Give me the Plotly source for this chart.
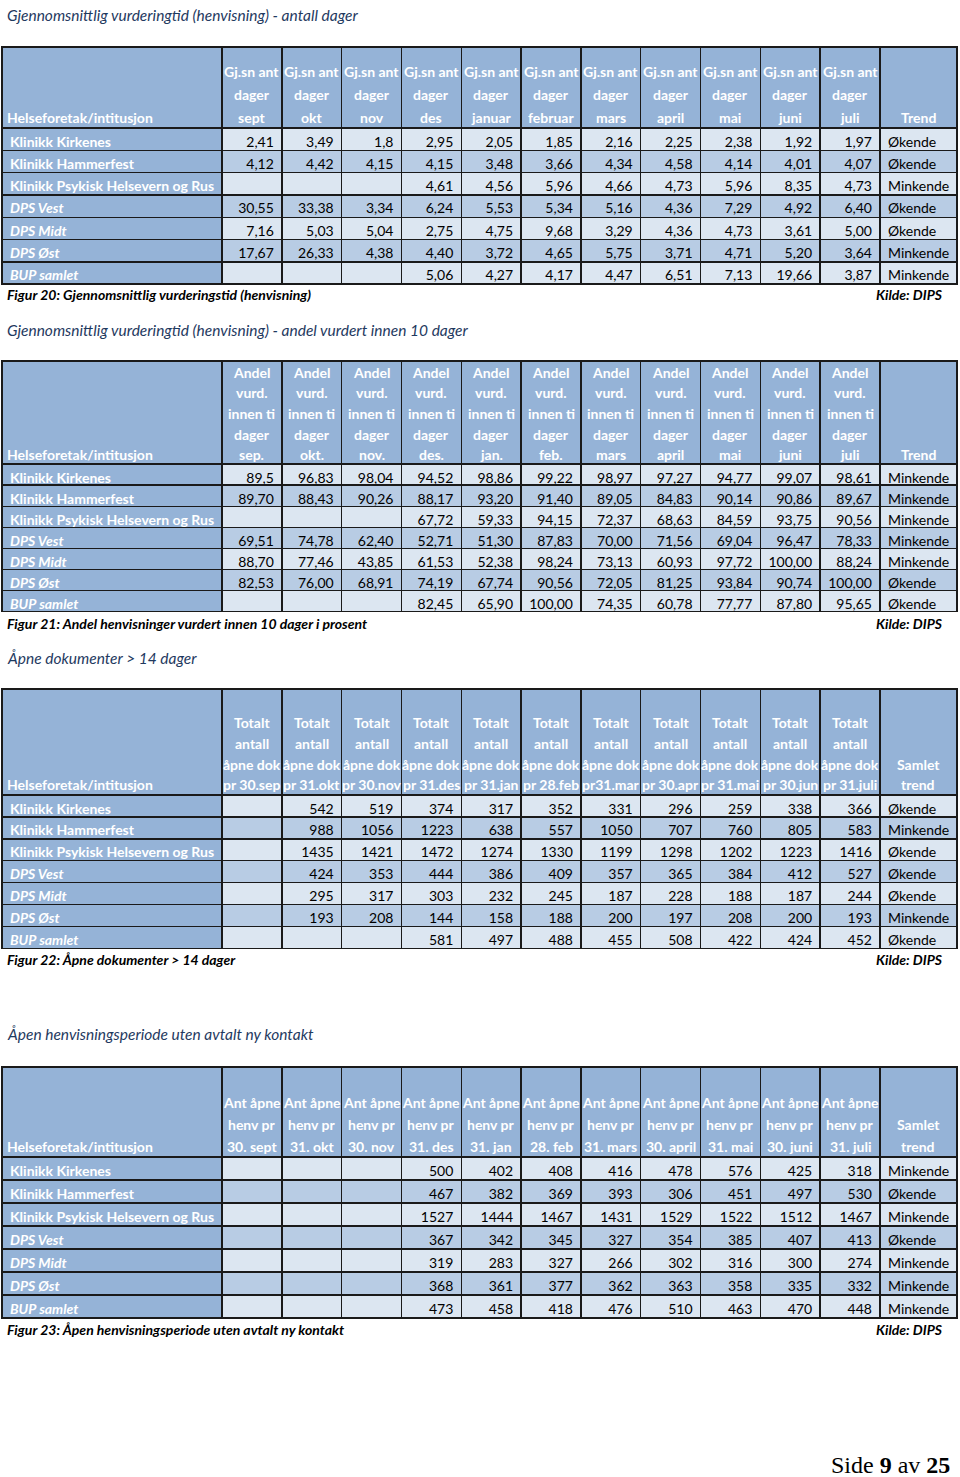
import plotly.graph_objects as go

PAGE_W, PAGE_H = 960, 1477

# ---------------- data ----------------
units = ["Klinikk Kirkenes", "Klinikk Hammerfest", "Klinikk Psykisk Helsevern og Rus",
         "DPS Vest", "DPS Midt", "DPS Øst", "BUP samlet"]
unit_italic = [False, False, False, True, True, True, True]
first_col_label = "Helseforetak/intitusjon"

# Table 1 - average assessment time (days)
t1_title = "Gjennomsnittlig vurderingtid (henvisning) - antall dager"
t1_caption = "Figur 20: Gjennomsnittlig vurderingstid (henvisning)"
t1_periods = ["sept", "okt", "nov", "des", "januar", "februar", "mars", "april", "mai", "juni", "juli"]
t1_head = ["Gj.sn ant", "dager"]
t1_trend_head = ["Trend"]
t1_values = [
    ["2,41", "3,49", "1,8", "2,95", "2,05", "1,85", "2,16", "2,25", "2,38", "1,92", "1,97"],
    ["4,12", "4,42", "4,15", "4,15", "3,48", "3,66", "4,34", "4,58", "4,14", "4,01", "4,07"],
    [None, None, None, "4,61", "4,56", "5,96", "4,66", "4,73", "5,96", "8,35", "4,73"],
    ["30,55", "33,38", "3,34", "6,24", "5,53", "5,34", "5,16", "4,36", "7,29", "4,92", "6,40"],
    ["7,16", "5,03", "5,04", "2,75", "4,75", "9,68", "3,29", "4,36", "4,73", "3,61", "5,00"],
    ["17,67", "26,33", "4,38", "4,40", "3,72", "4,65", "5,75", "3,71", "4,71", "5,20", "3,64"],
    [None, None, None, "5,06", "4,27", "4,17", "4,47", "6,51", "7,13", "19,66", "3,87"],
]
t1_trend = ["Økende", "Økende", "Minkende", "Økende", "Økende", "Minkende", "Minkende"]

# Table 2 - share assessed within 10 days (%)
t2_title = "Gjennomsnittlig vurderingtid (henvisning) - andel vurdert innen 10 dager"
t2_caption = "Figur 21: Andel henvisninger vurdert innen 10 dager i prosent"
t2_periods = ["sep.", "okt.", "nov.", "des.", "jan.", "feb.", "mars", "april", "mai", "juni", "juli"]
t2_head = ["Andel", "vurd.", "innen ti", "dager"]
t2_trend_head = ["Trend"]
t2_values = [
    ["89,5", "96,83", "98,04", "94,52", "98,86", "99,22", "98,97", "97,27", "94,77", "99,07", "98,61"],
    ["89,70", "88,43", "90,26", "88,17", "93,20", "91,40", "89,05", "84,83", "90,14", "90,86", "89,67"],
    [None, None, None, "67,72", "59,33", "94,15", "72,37", "68,63", "84,59", "93,75", "90,56"],
    ["69,51", "74,78", "62,40", "52,71", "51,30", "87,83", "70,00", "71,56", "69,04", "96,47", "78,33"],
    ["88,70", "77,46", "43,85", "61,53", "52,38", "98,24", "73,13", "60,93", "97,72", "100,00", "88,24"],
    ["82,53", "76,00", "68,91", "74,19", "67,74", "90,56", "72,05", "81,25", "93,84", "90,74", "100,00"],
    [None, None, None, "82,45", "65,90", "100,00", "74,35", "60,78", "77,77", "87,80", "95,65"],
]
t2_trend = ["Minkende", "Minkende", "Minkende", "Minkende", "Minkende", "Økende", "Økende"]

# Table 3 - open documents > 14 days
t3_title = "Åpne dokumenter > 14 dager"
t3_caption = "Figur 22: Åpne dokumenter > 14 dager"
t3_periods = ["pr 30.sep", "pr 31.okt", "pr 30.nov", "pr 31.des", "pr 31.jan", "pr 28.feb",
              "pr31.mar", "pr 30.apr", "pr 31.mai", "pr 30.jun", "pr 31.juli"]
t3_head = ["Totalt", "antall", "åpne dok"]
t3_trend_head = ["Samlet", "trend"]
t3_values = [
    [None, 542, 519, 374, 317, 352, 331, 296, 259, 338, 366],
    [None, 988, 1056, 1223, 638, 557, 1050, 707, 760, 805, 583],
    [None, 1435, 1421, 1472, 1274, 1330, 1199, 1298, 1202, 1223, 1416],
    [None, 424, 353, 444, 386, 409, 357, 365, 384, 412, 527],
    [None, 295, 317, 303, 232, 245, 187, 228, 188, 187, 244],
    [None, 193, 208, 144, 158, 188, 200, 197, 208, 200, 193],
    [None, None, None, 581, 497, 488, 455, 508, 422, 424, 452],
]
t3_trend = ["Økende", "Minkende", "Økende", "Økende", "Økende", "Minkende", "Økende"]

# Table 4 - open referral periods without new appointment
t4_title = "Åpen henvisningsperiode uten avtalt ny kontakt"
t4_caption = "Figur 23: Åpen henvisningsperiode uten avtalt ny kontakt"
t4_periods = ["30. sept", "31. okt", "30. nov", "31. des", "31. jan", "28. feb",
              "31. mars", "30. april", "31. mai", "30. juni", "31. juli"]
t4_head = ["Ant åpne", "henv pr"]
t4_trend_head = ["Samlet", "trend"]
t4_values = [
    [None, None, None, 500, 402, 408, 416, 478, 576, 425, 318],
    [None, None, None, 467, 382, 369, 393, 306, 451, 497, 530],
    [None, None, None, 1527, 1444, 1467, 1431, 1529, 1522, 1512, 1467],
    [None, None, None, 367, 342, 345, 327, 354, 385, 407, 413],
    [None, None, None, 319, 283, 327, 266, 302, 316, 300, 274],
    [None, None, None, 368, 361, 377, 362, 363, 358, 335, 332],
    [None, None, None, 473, 458, 418, 476, 510, 463, 470, 448],
]
t4_trend = ["Minkende", "Økende", "Minkende", "Økende", "Minkende", "Minkende", "Minkende"]

source_text = "Kilde: DIPS"
page_no, page_total = 9, 25

# ---------------- style / layout ----------------
FONT = "Lato, 'Open Sans', sans-serif"
TEXT_PX = 14
HEAD_FILL = "#95B3D7"
LIGHT = "#DCE6F1"
DARK = "#B8CCE4"
LINE = "#1a1a1a"
TITLE_COLOR = "#1F3A5F"
COL_W = [220] + [59.8] * 11 + [77]
X0, X1 = 2, 957

specs = [
    dict(title=t1_title, caption=t1_caption, periods=t1_periods, head=t1_head, trend_head=t1_trend_head,
         values=t1_values, trend=t1_trend, title_y=15, top=47, header_h=81, row_h=22.3, caption_y=295,
         head_gap=11, head_step=22.5),
    dict(title=t2_title, caption=t2_caption, periods=t2_periods, head=t2_head, trend_head=t2_trend_head,
         values=t2_values, trend=t2_trend, title_y=330, top=361, header_h=103, row_h=21.1, caption_y=623,
         head_gap=9, head_step=20.75),
    dict(title=t3_title, caption=t3_caption, periods=t3_periods, head=t3_head, trend_head=t3_trend_head,
         values=t3_values, trend=t3_trend, title_y=658, top=689, header_h=106, row_h=21.9, caption_y=959,
         head_gap=10, head_step=21),
    dict(title=t4_title, caption=t4_caption, periods=t4_periods, head=t4_head, trend_head=t4_trend_head,
         values=t4_values, trend=t4_trend, title_y=1034, top=1067, header_h=90, row_h=23.0, caption_y=1329,
         head_gap=11, head_step=22),
]


def py(y):
    return 1 - y / PAGE_H


def px(x):
    return x / PAGE_W


# column edges in page pixels (derived from the relative column widths)
scale = (X1 - X0) / sum(COL_W)
edges = [X0]
for w in COL_W:
    edges.append(edges[-1] + w * scale)
centers = [(edges[i] + edges[i + 1]) / 2 for i in range(len(COL_W))]

traces = []
annotations = []
n_rows = len(units)
head_font = dict(family=FONT, size=TEXT_PX, color="white")
for s in specs:
    cols = [[u.replace(" ", "\u00a0") for u in units]]
    for j in range(len(s["periods"])):
        cols.append(["" if row[j] is None else str(row[j]) for row in s["values"]])
    cols.append(list(s["trend"]))

    band = [LIGHT if i % 2 == 0 else DARK for i in range(n_rows)]
    fills = [[HEAD_FILL] * n_rows] + [band] * (len(cols) - 1)
    styles = [["italic" if it else "normal" for it in unit_italic]] + ["normal"] * (len(cols) - 1)

    bottom = s["top"] + s["header_h"] + n_rows * s["row_h"] + 8
    traces.append(dict(
        type="table",
        domain=dict(x=[px(X0), px(X1)], y=[py(bottom), py(s["top"])]),
        columnwidth=COL_W,
        header=dict(
            values=[""] * len(cols),
            height=s["header_h"],
            fill=dict(color=HEAD_FILL),
            line=dict(color=LINE, width=1.4),
        ),
        cells=dict(
            values=cols,
            height=s["row_h"],
            fill=dict(color=fills),
            line=dict(color=LINE, width=1.4),
            align=["left"] + ["right"] * (len(cols) - 2) + ["left"],
            font=dict(family=FONT, size=TEXT_PX,
                      color=["white"] + ["black"] * (len(cols) - 1),
                      weight=["bold"] + ["normal"] * (len(cols) - 1),
                      style=styles),
        ),
    ))

    # header labels, bottom-aligned like the spreadsheet header row
    head_bottom = s["top"] + s["header_h"]
    header_cols = [([first_col_label], 0, "left")]
    header_cols += [(s["head"] + [p], j + 1, "center") for j, p in enumerate(s["periods"])]
    header_cols += [(s["trend_head"], len(COL_W) - 1, "center")]
    for lines, ci, al in header_cols:
        for k, ln in enumerate(reversed(lines)):
            yc = head_bottom - s["head_gap"] - k * s["head_step"]
            if al == "left":
                xa, xx = "left", edges[ci] + 3
            else:
                xa, xx = "center", centers[ci]
            annotations.append(dict(text=f"<b>{ln}</b>", x=px(xx), y=py(yc), xref="paper", yref="paper",
                                    xanchor=xa, yanchor="middle", showarrow=False, font=head_font))

    annotations.append(dict(text=s["title"], x=px(5), y=py(s["title_y"]), xref="paper", yref="paper",
                            xanchor="left", yanchor="middle", showarrow=False,
                            font=dict(family=FONT, size=15.5, color=TITLE_COLOR, style="italic")))
    annotations.append(dict(text=s["caption"], x=px(5), y=py(s["caption_y"]), xref="paper", yref="paper",
                            xanchor="left", yanchor="middle", showarrow=False,
                            font=dict(family=FONT, size=14, color="black", style="italic", weight="bold")))
    annotations.append(dict(text=source_text, x=px(945), y=py(s["caption_y"]), xref="paper", yref="paper",
                            xanchor="right", yanchor="middle", showarrow=False,
                            font=dict(family=FONT, size=14, color="black", style="italic", weight="bold")))

annotations.append(dict(text=f"Side <b>{page_no}</b> av <b>{page_total}</b>", x=px(952), y=py(1465),
                        xref="paper", yref="paper", xanchor="right", yanchor="middle", showarrow=False,
                        font=dict(family="'Liberation Serif', 'DejaVu Serif', serif", size=24, color="black")))

layout = dict(
    width=PAGE_W, height=PAGE_H,
    margin=dict(l=0, r=0, t=0, b=0),
    paper_bgcolor="white", plot_bgcolor="white",
    annotations=annotations,
)

fig = go.Figure(data=traces, layout=layout, _validate=False)
fig.write_html("out.html", config={"displayModeBar": False},
               post_script="document.body.style.margin='0px';")
